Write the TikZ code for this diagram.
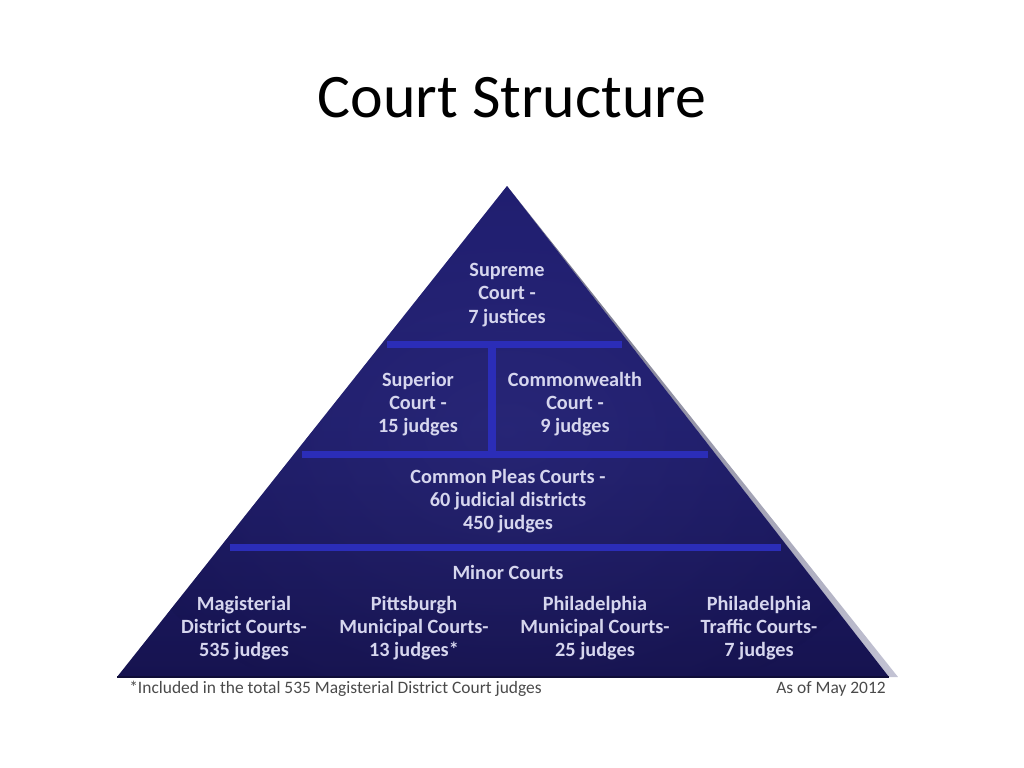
\documentclass[tikz,border=0pt]{standalone}
\usepackage{fontspec}
\setmainfont{Carlito}
\usetikzlibrary{calc}
\definecolor{pyrdark}{HTML}{16134F}
\definecolor{pyrmid}{HTML}{211F78}
\definecolor{sepblue}{HTML}{2B2DB8}
\definecolor{lavtext}{HTML}{D6D6EE}
\definecolor{bevelgray}{HTML}{9C9CB8}
\definecolor{footgray}{HTML}{4A4A4A}

\begin{document}
\begin{tikzpicture}[x=0.025cm, y=-0.025cm,
    lbl/.style={text=lavtext, align=center, font=\bfseries\fontsize{14.4}{16.6}\selectfont},
    foot/.style={text=footgray, font=\fontsize{12.4}{14}\selectfont, inner sep=0pt},
    sepline/.style={sepblue, line width=5}]
    % 画布范围
    \useasboundingbox (0,0) rectangle (1024,768);

    % 标题
    \node[font=\fontsize{44}{50}\selectfont, anchor=base] (title) at (512,118) {Court Structure};

    % 金字塔的顶点与底角
    \coordinate (top) at (507,186);
    \coordinate (bl)  at (117,677);
    \coordinate (br)  at (898,677);
    \coordinate (brin) at (889,677);

    % 右侧的灰色斜边
    \shade[left color=bevelgray!70!black, right color=bevelgray!60!white] (top) -- (br) -- (brin) -- cycle;

    % 金字塔主体（渐变填充）
    \begin{scope}
        \clip (top) -- (bl) -- (brin) -- cycle;
        \shade[top color=pyrmid, bottom color=pyrdark, middle color=pyrmid!92!black] (100,180) rectangle (920,680);
        \shade[inner color=pyrmid!85!white, outer color=pyrdark, opacity=0.25] (507,430) ellipse (420 and 300);
    \end{scope}
    \draw[pyrdark!70!black, line width=2] (bl) -- (brin);

    % 分层的横线与竖线
    \draw[sepline] ($(top)!0.322!(bl)+(6,0)$) -- ($(top)!0.322!(brin)+(-8,0)$);
    \draw[sepline] ($(top)!0.547!(bl)+(8,0)$) -- ($(top)!0.547!(brin)+(-8,0)$);
    \draw[sepline] ($(top)!0.737!(bl)+(10,0)$) -- ($(top)!0.737!(brin)+(-8,0)$);
    \draw[sepline] (492,345) -- (492,455);

    % 各级法院
    \node[lbl] (supreme) at (507,295) {Supreme\\Court -\\7 justices};
    \node[lbl] (superior) at (418,404) {Superior\\Court -\\15 judges};
    \node[lbl] (commonwealth) at (575,404) {Commonwealth\\Court -\\9 judges};
    \node[lbl] (pleas) at (508,501) {Common Pleas Courts -\\60 judicial districts\\450 judges};
    \node[lbl] (minor) at (508,572) {Minor Courts};
    \node[lbl] (magist) at (244,628) {Magisterial\\District Courts-\\535 judges};
    \node[lbl] (pitt) at (414,628) {Pittsburgh\\Municipal Courts-\\13 judges*};
    \node[lbl] (phila) at (595,628) {Philadelphia\\Municipal Courts-\\25 judges};
    \node[lbl] (traffic) at (759,628) {Philadelphia\\Traffic Courts-\\7 judges};

    % 脚注
    \node[foot, anchor=west] (note) at (129,689) {*Included in the total 535 Magisterial District Court judges};
    \node[foot, anchor=east] (asof) at (886,689) {As of May 2012};
\end{tikzpicture}
\end{document}
